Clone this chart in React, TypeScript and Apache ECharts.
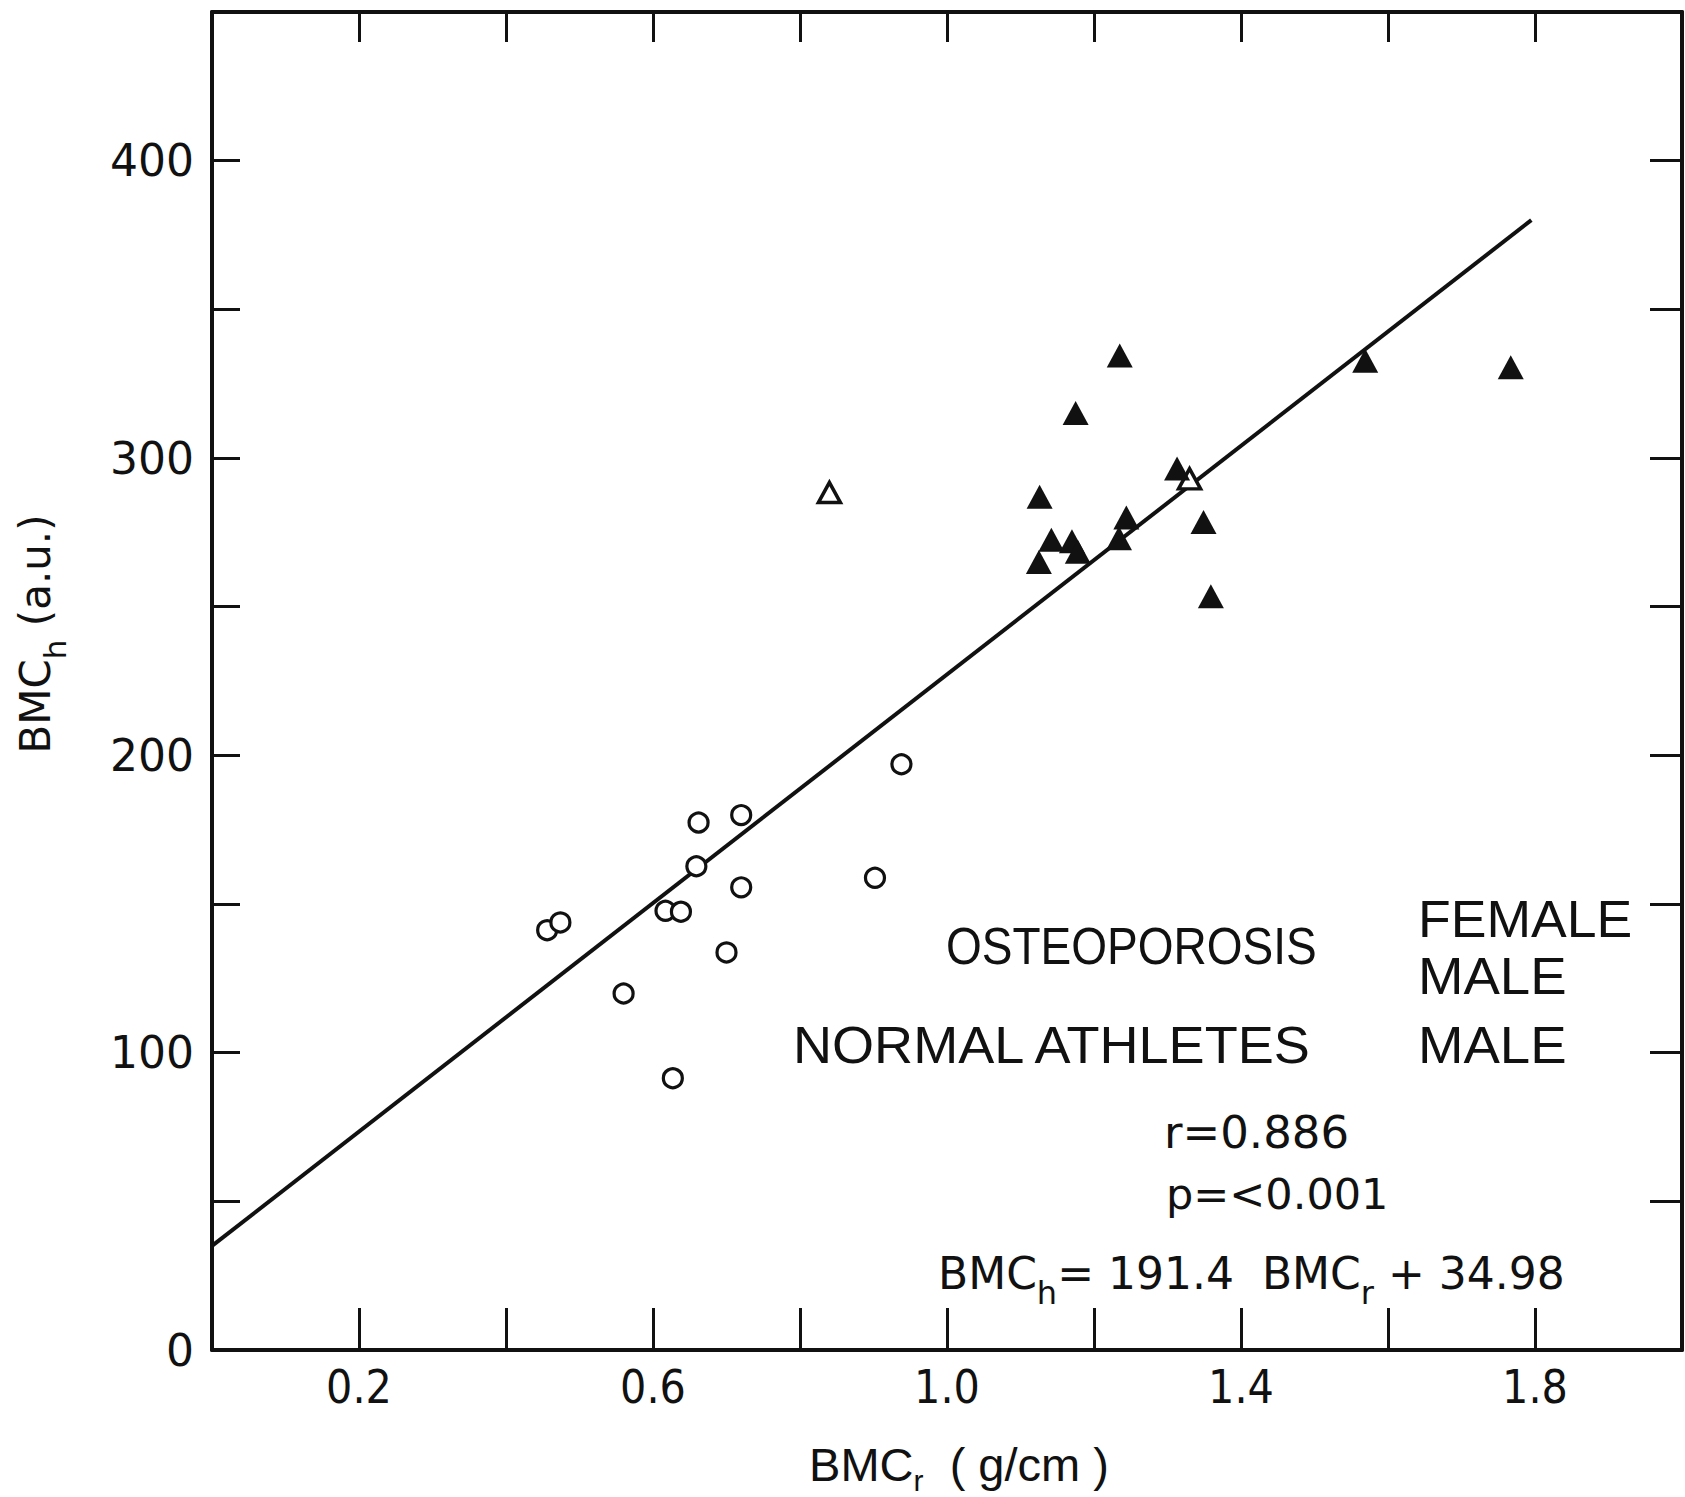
import React, { useEffect, useRef } from "react";
import * as echarts from "echarts";

// ---- tick labels ----
const xTickLabels = [0.2, 0.6, 1.0, 1.4, 1.8];
const yTickLabels = [0, 100, 200, 300, 400];

// ---- data ----
// Osteoporosis, female (open circles)
const osteoFemaleX = [0.456, 0.474, 0.56, 0.617, 0.638, 0.627, 0.659, 0.662, 0.7, 0.72, 0.72, 0.902, 0.938];
const osteoFemaleY = [141.2, 143.8, 119.9, 147.7, 147.4, 91.4, 162.7, 177.4, 133.7, 179.9, 155.6, 158.8, 197.0];

// Osteoporosis, male (open triangles)
const osteoMaleX = [0.84, 1.33];
const osteoMaleY = [288.4, 293];

// Normal athletes, male (filled triangles)
const athletesMaleX = [1.235, 1.175, 1.569, 1.767, 1.313, 1.126, 1.244, 1.142, 1.17, 1.178, 1.125, 1.234, 1.349, 1.359];
const athletesMaleY = [334.5, 315.1, 332.7, 330.5, 296.5, 287, 280, 272.5, 272, 268.5, 265, 273, 278.5, 253.5];

// Regression line end points: BMCh = 191.4 BMCr + 34.98
const fitX = [0, 1.795];
const fitY = [35, 380];

const zip = (xs: number[], ys: number[]) => xs.map((x, i) => [x, ys[i]]);

const INK = "#111";
const CONDENSED = "'DejaVu Sans Condensed', 'Liberation Sans', sans-serif";

export default function App() {
  const ref = useRef<HTMLDivElement>(null);

  useEffect(() => {
    document.body.style.margin = "0";
    if (!ref.current) return;
    const chart = echarts.init(ref.current, null, { renderer: "svg" });

    const axisLine = { show: true, onZero: false, lineStyle: { color: INK, width: 4 } };

    const option: any = {
      animation: false,
      backgroundColor: "#fff",
      grid: { left: 212, right: 3, top: 12, bottom: 147, containLabel: false, outerBoundsMode: "none" },
      tooltip: { show: false },
      xAxis: [
        {
          type: "value",
          position: "bottom",
          min: 0,
          max: 2.0,
          interval: 0.2,
          axisLine,
          axisTick: { show: true, inside: true, length: 42, lineStyle: { color: INK, width: 3 } },
          axisLabel: {
            show: true,
            customValues: xTickLabels,
            formatter: (v: number) => v.toFixed(1),
            margin: 14,
            fontFamily: CONDENSED,
            fontSize: 46,
            color: INK,
          },
          splitLine: { show: false },
        },
        {
          type: "value",
          position: "top",
          min: 0,
          max: 2.0,
          interval: 0.2,
          axisLine,
          axisTick: { show: true, inside: true, length: 30, lineStyle: { color: INK, width: 3 } },
          axisLabel: { show: false },
          splitLine: { show: false },
        },
      ],
      yAxis: [
        {
          type: "value",
          position: "left",
          min: 0,
          max: 450,
          interval: 50,
          axisLine,
          axisTick: { show: true, inside: true, length: 28, lineStyle: { color: INK, width: 3 } },
          axisLabel: {
            show: true,
            customValues: yTickLabels,
            formatter: (v: number) => String(v),
            margin: 18,
            fontFamily: "DejaVu Sans",
            fontSize: 44,
            color: INK,
          },
          splitLine: { show: false },
        },
        {
          type: "value",
          position: "right",
          min: 0,
          max: 450,
          interval: 50,
          axisLine,
          axisTick: { show: true, inside: true, length: 32, lineStyle: { color: INK, width: 3 } },
          axisLabel: { show: false },
          splitLine: { show: false },
        },
      ],
      series: [
        {
          name: "Regression",
          type: "line",
          xAxisIndex: 0,
          yAxisIndex: 0,
          data: zip(fitX, fitY),
          symbol: "none",
          silent: true,
          lineStyle: { color: INK, width: 4 },
          z: 2,
        },
        {
          name: "Osteoporosis Female",
          type: "scatter",
          xAxisIndex: 0,
          yAxisIndex: 0,
          data: zip(osteoFemaleX, osteoFemaleY),
          symbol: "circle",
          symbolSize: 19,
          silent: true,
          itemStyle: { color: "#fff", borderColor: INK, borderWidth: 3.2, opacity: 1 },
          z: 3,
        },
        {
          name: "Osteoporosis Male",
          type: "scatter",
          xAxisIndex: 0,
          yAxisIndex: 0,
          data: zip(osteoMaleX, osteoMaleY),
          symbol: "triangle",
          symbolSize: [22, 20],
          silent: true,
          itemStyle: { color: "#fff", borderColor: INK, borderWidth: 3.5, opacity: 1 },
          z: 3,
        },
        {
          name: "Normal Athletes Male",
          type: "scatter",
          xAxisIndex: 0,
          yAxisIndex: 0,
          data: zip(athletesMaleX, athletesMaleY),
          symbol: "triangle",
          symbolSize: [26, 24],
          silent: true,
          itemStyle: { color: INK, borderColor: INK, borderWidth: 0, opacity: 1 },
          z: 3,
        },
      ],
      graphic: [
        // y-axis title (rotated)
        {
          type: "text",
          x: 42,
          y: 634,
          rotation: Math.PI / 2,
          silent: true,
          style: {
            text: "{m|BMC}{s|h}{m| (a.u.)}",
            textAlign: "center",
            textVerticalAlign: "middle",
            fill: INK,
            rich: {
              m: { fontFamily: "DejaVu Sans", fontSize: 42, lineHeight: 42, verticalAlign: "top", fill: INK, color: INK },
              s: { fontFamily: "DejaVu Sans", fontSize: 31, lineHeight: 56, verticalAlign: "bottom", fill: INK, color: INK },
            },
          },
        },
        // x-axis title
        {
          type: "text",
          x: 959,
          y: 1441,
          silent: true,
          style: {
            text: "{m|BMC}{s|r}{m|  ( g/cm )}",
            textAlign: "center",
            textVerticalAlign: "top",
            fill: INK,
            rich: {
              m: { fontFamily: "Liberation Sans", fontSize: 47, lineHeight: 47, verticalAlign: "top", fill: INK, color: INK },
              s: { fontFamily: "Liberation Sans", fontSize: 30, lineHeight: 54, verticalAlign: "bottom", fill: INK, color: INK },
            },
          },
        },
        // legend-like labels
        {
          type: "text",
          x: 946,
          y: 946,
          scaleX: 0.885,
          silent: true,
          style: { text: "OSTEOPOROSIS", fontFamily: "Liberation Sans", fontSize: 52, fill: INK, textAlign: "left", textVerticalAlign: "middle" },
        },
        {
          type: "text",
          x: 1418,
          y: 919,
          scaleX: 1.03,
          silent: true,
          style: { text: "FEMALE", fontFamily: "Liberation Sans", fontSize: 52, fill: INK, textAlign: "left", textVerticalAlign: "middle" },
        },
        {
          type: "text",
          x: 1418,
          y: 976,
          scaleX: 1.05,
          silent: true,
          style: { text: "MALE", fontFamily: "Liberation Sans", fontSize: 52, fill: INK, textAlign: "left", textVerticalAlign: "middle" },
        },
        {
          type: "text",
          x: 793,
          y: 1045,
          scaleX: 1.04,
          silent: true,
          style: { text: "NORMAL ATHLETES", fontFamily: "Liberation Sans", fontSize: 52, fill: INK, textAlign: "left", textVerticalAlign: "middle" },
        },
        {
          type: "text",
          x: 1418,
          y: 1045,
          scaleX: 1.05,
          silent: true,
          style: { text: "MALE", fontFamily: "Liberation Sans", fontSize: 52, fill: INK, textAlign: "left", textVerticalAlign: "middle" },
        },
        // statistics
        {
          type: "text",
          x: 1164,
          y: 1132,
          silent: true,
          style: { text: "r=0.886", fontFamily: "DejaVu Sans", fontSize: 45, fill: INK, textAlign: "left", textVerticalAlign: "middle" },
        },
        {
          type: "text",
          x: 1166,
          y: 1194,
          silent: true,
          style: { text: "p=<0.001", fontFamily: "DejaVu Sans", fontSize: 43, fill: INK, textAlign: "left", textVerticalAlign: "middle" },
        },
        {
          type: "text",
          x: 938,
          y: 1251,
          silent: true,
          style: {
            text: "{m|BMC}{s|h}{m|= 191.4  BMC}{s|r}{m| + 34.98}",
            textAlign: "left",
            textVerticalAlign: "top",
            fill: INK,
            rich: {
              m: { fontFamily: "DejaVu Sans", fontSize: 44, lineHeight: 44, verticalAlign: "top", fill: INK, color: INK },
              s: { fontFamily: "DejaVu Sans", fontSize: 32, lineHeight: 58, verticalAlign: "bottom", fill: INK, color: INK },
            },
          },
        },
      ],
    };

    chart.setOption(option);
    return () => chart.dispose();
  }, []);

  return (
    <div
      ref={ref}
      style={{ position: "absolute", left: 0, top: 0, width: 1685, height: 1497, background: "#fff" }}
    />
  );
}
